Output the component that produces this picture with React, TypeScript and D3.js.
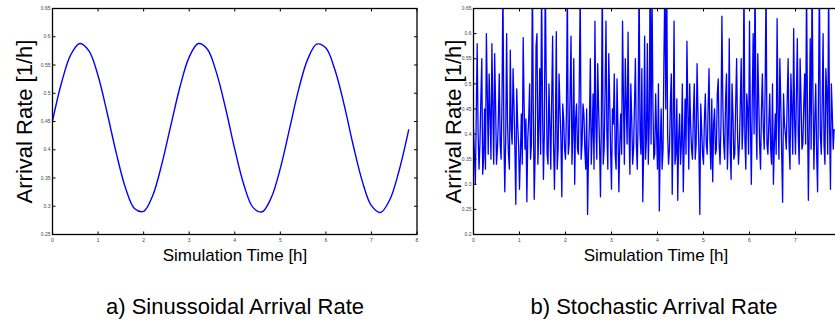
import React from "react";
import * as d3 from "d3";

// ---- data ----
const sinTimes = [0, 0.2, 0.4, 0.6, 0.8, 1.0, 1.2, 1.4, 1.6, 1.8, 2.0, 2.2, 2.4, 2.6, 2.8, 3.0, 3.2, 3.4, 3.6, 3.8, 4.0, 4.2, 4.4, 4.6, 4.8, 5.0, 5.2, 5.4, 5.6, 5.8, 6.0, 6.2, 6.4, 6.6, 6.8, 7.0, 7.2, 7.4, 7.6, 7.82];
const sinValues = [0.451, 0.519, 0.568, 0.588, 0.575, 0.531, 0.465, 0.394, 0.333, 0.296, 0.291, 0.319, 0.375, 0.444, 0.512, 0.564, 0.588, 0.578, 0.536, 0.473, 0.401, 0.338, 0.298, 0.29, 0.315, 0.367, 0.436, 0.506, 0.56, 0.587, 0.58, 0.541, 0.48, 0.408, 0.344, 0.301, 0.289, 0.311, 0.361, 0.436];

// stochastic series: samples at t = 0, 0.04, 0.08, ... (stochA)
// and at t = 0.02, 0.06, 0.10, ... (stochB)
const stochStep = 0.02;
const stochA = [
  0.41, 0.30, 0.58, 0.33, 0.47, 0.32, 0.45, 0.60, 0.36, 0.44,
  0.58, 0.34, 0.46, 0.37, 0.52, 0.35, 0.70, 0.285, 0.60, 0.36,
  0.567, 0.38, 0.46, 0.26, 0.42, 0.29, 0.44, 0.592, 0.37, 0.265,
  0.43, 0.35, 0.72, 0.27, 0.575, 0.34, 0.53, 0.70, 0.31, 0.71,
  0.36, 0.50, 0.33, 0.595, 0.29, 0.604, 0.37, 0.45, 0.275, 0.43,
  0.35, 0.70, 0.38, 0.595, 0.40, 0.30, 0.46, 0.36, 0.69, 0.38,
  0.44, 0.33, 0.24, 0.42, 0.34, 0.48, 0.625, 0.35, 0.45, 0.275,
  0.71, 0.37, 0.625, 0.33, 0.47, 0.29, 0.42, 0.36, 0.51, 0.285,
  0.44, 0.625, 0.34, 0.46, 0.603, 0.32, 0.43, 0.37, 0.55, 0.33,
  0.72, 0.36, 0.265, 0.595, 0.39, 0.34, 0.73, 0.70, 0.35, 0.48,
  0.33, 0.247, 0.45, 0.37, 0.70, 0.72, 0.34, 0.46, 0.28, 0.625,
  0.36, 0.268, 0.44, 0.38, 0.285, 0.47, 0.585, 0.33, 0.42, 0.35,
  0.50, 0.38, 0.44, 0.24, 0.41, 0.34, 0.48, 0.36, 0.53, 0.33,
  0.305, 0.45, 0.37, 0.51, 0.34, 0.635, 0.38, 0.47, 0.33, 0.59,
  0.31, 0.44, 0.36, 0.55, 0.34, 0.46, 0.37, 0.71, 0.33, 0.45,
  0.625, 0.30, 0.60, 0.72, 0.35, 0.47, 0.33, 0.52, 0.37, 0.70,
  0.36, 0.48, 0.34, 0.30, 0.44, 0.63, 0.35, 0.46, 0.264, 0.42,
  0.37, 0.55, 0.33, 0.45, 0.61, 0.36, 0.59, 0.34, 0.47, 0.38,
  0.52, 0.70, 0.268, 0.59, 0.72, 0.33, 0.50, 0.285, 0.71, 0.36,
  0.60, 0.34, 0.48, 0.70, 0.29, 0.44, 0.41,
];
const stochB = [
  0.36, 0.44, 0.40, 0.38, 0.55, 0.35, 0.33, 0.48, 0.52, 0.35,
  0.45, 0.56, 0.34, 0.43, 0.38, 0.47, 0.40, 0.39, 0.42, 0.33,
  0.41, 0.53, 0.37, 0.49, 0.38, 0.36, 0.34, 0.46, 0.43, 0.39,
  0.50, 0.38, 0.45, 0.36, 0.60, 0.41, 0.36, 0.46, 0.40, 0.52,
  0.34, 0.42, 0.47, 0.38, 0.41, 0.33, 0.52, 0.39, 0.46, 0.37,
  0.44, 0.36, 0.48, 0.34, 0.55, 0.43, 0.37, 0.50, 0.35, 0.46,
  0.37, 0.45, 0.36, 0.55, 0.40, 0.33, 0.42, 0.54, 0.38, 0.43,
  0.34, 0.48, 0.40, 0.56, 0.37, 0.45, 0.52, 0.33, 0.41, 0.38,
  0.36, 0.47, 0.55, 0.38, 0.41, 0.50, 0.34, 0.46, 0.38, 0.44,
  0.40, 0.53, 0.37, 0.35, 0.58, 0.42, 0.38, 0.46, 0.36, 0.40,
  0.50, 0.38, 0.33, 0.55, 0.45, 0.40, 0.37, 0.52, 0.41, 0.34,
  0.47, 0.39, 0.34, 0.50, 0.38, 0.36, 0.45, 0.50, 0.37, 0.44,
  0.35, 0.54, 0.37, 0.46, 0.36, 0.43, 0.38, 0.45, 0.39, 0.47,
  0.42, 0.36, 0.48, 0.38, 0.42, 0.46, 0.35, 0.52, 0.40, 0.37,
  0.50, 0.35, 0.46, 0.40, 0.38, 0.55, 0.42, 0.39, 0.48, 0.36,
  0.42, 0.47, 0.40, 0.44, 0.56, 0.38, 0.45, 0.41, 0.49, 0.38,
  0.42, 0.37, 0.50, 0.38, 0.36, 0.44, 0.55, 0.36, 0.48, 0.40,
  0.47, 0.38, 0.52, 0.36, 0.43, 0.48, 0.40, 0.55, 0.37, 0.46,
  0.38, 0.45, 0.42, 0.37, 0.48, 0.43, 0.36, 0.48, 0.40, 0.46,
  0.38, 0.53, 0.36, 0.42, 0.50, 0.37,
];

const leftYTicks = [0.25, 0.3, 0.35, 0.4, 0.45, 0.5, 0.55, 0.6, 0.65];
const rightYTicks = [0.2, 0.25, 0.3, 0.35, 0.4, 0.45, 0.5, 0.55, 0.6, 0.65];
const leftXTicks = [0, 1, 2, 3, 4, 5, 6, 7, 8];
const rightXTicks = [0, 1, 2, 3, 4, 5, 6, 7];

const yLabel = "Arrival Rate [1/h]";
const xLabel = "Simulation Time [h]";
const captionA = "a) Sinussoidal Arrival Rate";
const captionB = "b) Stochastic Arrival Rate";

const FONT = "'Liberation Sans', Arial, Helvetica, sans-serif";

type PanelProps = {
  x0: number; x1: number; y0: number; y1: number;
  xDomain: [number, number]; yDomain: [number, number];
  xTicks: number[]; yTicks: number[];
  points: [number, number][];
  curve: d3.CurveFactory;
  strokeWidth: number;
  id: string;
  yLabelX: number;
  labelCenterX: number;
  rightTicks: boolean;
};

function fmt(v: number) {
  return String(Math.round(v * 100) / 100);
}

function Panel(p: PanelProps) {
  const x = d3.scaleLinear().domain(p.xDomain).range([p.x0, p.x1]);
  const y = d3.scaleLinear().domain(p.yDomain).range([p.y1, p.y0]);
  const line = d3.line<[number, number]>().x(d => x(d[0])).y(d => y(d[1])).curve(p.curve);
  const tl = 3;
  return (
    <g>
      <defs>
        <clipPath id={p.id}>
          <rect x={p.x0} y={p.y0} width={p.x1 - p.x0} height={p.y1 - p.y0} />
        </clipPath>
      </defs>
      <path d={line(p.points) || ""} fill="none" stroke="#0000ff" strokeWidth={p.strokeWidth} clipPath={`url(#${p.id})`} strokeLinejoin="round" />
      {p.xTicks.map(t => (
        <g key={"x" + t}>
          <line x1={x(t)} x2={x(t)} y1={p.y1} y2={p.y1 - tl} stroke="#000" strokeWidth={1} />
          <line x1={x(t)} x2={x(t)} y1={p.y0} y2={p.y0 + tl} stroke="#000" strokeWidth={1} />
          <text x={x(t)} y={p.y1 + 7} fontSize={5} fontFamily={FONT} fill="#444" textAnchor="middle">{t}</text>
        </g>
      ))}
      {p.yTicks.map(t => (
        <g key={"y" + t}>
          <line x1={p.x0} x2={p.x0 + tl} y1={y(t)} y2={y(t)} stroke="#000" strokeWidth={1} />
          {p.rightTicks && <line x1={p.x1} x2={p.x1 - tl} y1={y(t)} y2={y(t)} stroke="#000" strokeWidth={1} />}
          <text x={p.x0 - 2} y={y(t) + 1.7} fontSize={5} fontFamily={FONT} fill="#444" textAnchor="end">{fmt(t)}</text>
        </g>
      ))}
      <rect x={p.x0} y={p.y0} width={p.x1 - p.x0} height={p.y1 - p.y0} fill="none" stroke="#000" strokeWidth={1.3} />
      <text transform={`translate(${p.yLabelX},${(p.y0 + p.y1) / 2}) rotate(-90)`} textAnchor="middle" fontSize={22} fontFamily={FONT} fill="#000">{yLabel}</text>
      <text x={p.labelCenterX} y={261} textAnchor="middle" fontSize={17} fontFamily={FONT} fill="#000">{xLabel}</text>
    </g>
  );
}

export default function App() {
  const sinPts: [number, number][] = sinTimes.map((t, i) => [t, sinValues[i]]);
  const stPts: [number, number][] = [];
  stochA.forEach((v, i) => {
    stPts.push([2 * i * stochStep, v]);
    if (i < stochB.length) stPts.push([(2 * i + 1) * stochStep, stochB[i]]);
  });
  return (
    <svg width={835} height={325} style={{ position: "absolute", left: 0, top: 0, background: "#fff" }}>
      <rect x={0} y={0} width={835} height={325} fill="#fff" />
      <Panel id="clipA" x0={52.5} x1={417} y0={8.5} y1={234.5} xDomain={[0, 8]} yDomain={[0.25, 0.65]}
        xTicks={leftXTicks} yTicks={leftYTicks} points={sinPts} curve={d3.curveCatmullRom} strokeWidth={1.4}
        yLabelX={32} labelCenterX={235} rightTicks={true} />
      <Panel id="clipB" x0={473.5} x1={841.5} y0={8.5} y1={234.5} xDomain={[0, 8]} yDomain={[0.2, 0.65]}
        xTicks={rightXTicks} yTicks={rightYTicks} points={stPts} curve={d3.curveLinear} strokeWidth={1.3}
        yLabelX={461} labelCenterX={656} rightTicks={false} />
      <text x={235} y={314} textAnchor="middle" fontSize={22} fontFamily={FONT} fill="#000">{captionA}</text>
      <text x={654} y={314} textAnchor="middle" fontSize={22} fontFamily={FONT} fill="#000">{captionB}</text>
    </svg>
  );
}
